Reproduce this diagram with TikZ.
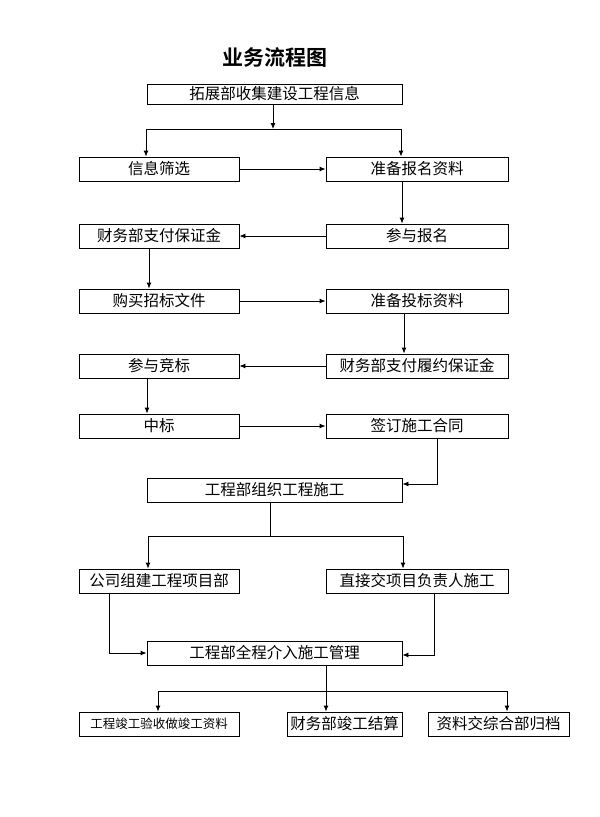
\documentclass[tikz,border=0pt]{standalone}
\usepackage{fontspec}
\setmainfont{Liberation Serif}
\newfontfamily\cjk{Noto Sans CJK SC}
\newfontfamily\cjkb{Noto Sans CJK SC}[BoldFont={* Bold}]
\usetikzlibrary{arrows.meta}
\tikzset{
  box/.style={draw, line width=0.9pt, inner sep=0pt, minimum height=24pt, font=\cjk\fontsize{15.5}{16}\selectfont},
  wbox/.style={box, minimum width=160pt},
  rbox/.style={box, minimum width=182pt},
  cbox/.style={box, minimum width=255pt},
  arr/.style={line width=0.9pt, -{Latex[length=6pt,width=5pt]}},
  ln/.style={line width=0.9pt}
}
\begin{document}
\begin{tikzpicture}[x=1pt,y=-1pt]
\fill[white] (0,0) rectangle (600,817);
\useasboundingbox (0,0) rectangle (600,817);
\node[font=\cjkb\bfseries\fontsize{21}{22}\selectfont] (title) at (275,58) {业务流程图};
\node[cbox, minimum height=20pt] (b1) at (274.5,94) {拓展部收集建设工程信息};
\node[wbox] (b2) at (159,169) {信息筛选};
\node[rbox] (b3) at (417,169) {准备报名资料};
\node[wbox] (b4) at (159,236) {财务部支付保证金};
\node[rbox] (b5) at (417,236) {参与报名};
\node[wbox] (b6) at (159,301) {购买招标文件};
\node[rbox] (b7) at (417,301) {准备投标资料};
\node[wbox] (b8) at (159,366) {参与竞标};
\node[rbox] (b9) at (417,366) {财务部支付履约保证金};
\node[wbox] (b10) at (159,426) {中标};
\node[rbox] (b11) at (417,426) {签订施工合同};
\node[cbox] (b12) at (274.5,490) {工程部组织工程施工};
\node[wbox] (b13) at (159,581) {公司组建工程项目部};
\node[rbox] (b14) at (417,581) {直接交项目负责人施工};
\node[cbox] (b15) at (274.5,653) {工程部全程介入施工管理};
\node[wbox, font=\cjk\fontsize{12.5}{13}\selectfont] (b16) at (159,724) {工程竣工验收做竣工资料};
\node[box, minimum width=115pt] (b17) at (344.5,724) {财务部竣工结算};
\node[box, minimum width=141pt] (b18) at (498.5,724) {资料交综合部归档};
% branch 1
\coordinate (j1) at (273,129);
\coordinate (j1l) at (146,129);
\coordinate (j1r) at (401,129);
\draw[arr] (b1.south -| j1) -- (j1);
\draw[ln] (j1l) -- (j1r);
\draw[arr] (j1l) -- (j1l |- b2.north);
\draw[arr] (j1r) -- (j1r |- b3.north);
\draw[arr] (b2) -- (b3);
\draw[arr] ([xshift=-15pt]b3.south) -- ([xshift=-15pt]b5.north);
\draw[arr] (b5) -- (b4);
\draw[arr] ([xshift=-10pt]b4.south) -- ([xshift=-10pt]b6.north);
\draw[arr] (b6) -- (b7);
\draw[arr] ([xshift=-13pt]b7.south) -- ([xshift=-13pt]b9.north);
\draw[arr] (b9) -- (b8);
\draw[arr] ([xshift=-12pt]b8.south) -- ([xshift=-12pt]b10.north);
\draw[arr] (b10) -- (b11);
\draw[arr] ([xshift=20pt]b11.south) |- ([yshift=6pt]b12.east);
% branch 2
\coordinate (j2) at (270,536);
\coordinate (j2l) at (148,536);
\coordinate (j2r) at (403,536);
\draw[ln] (b12.south -| j2) -- (j2);
\draw[ln] (j2l) -- (j2r);
\draw[arr] (j2l) -- (j2l |- b13.north);
\draw[arr] (j2r) -- (j2r |- b14.north);
\draw[arr] ([xshift=-50pt]b13.south) |- (b15.west);
\draw[arr] ([xshift=17pt]b14.south) |- ([yshift=-2pt]b15.east);
% branch 3
\coordinate (j3) at (326,691);
\coordinate (j3l) at (158,691);
\coordinate (j3r) at (507,691);
\draw[ln] (b15.south -| j3) -- (j3);
\draw[ln] (j3l) -- (j3r);
\draw[arr] (j3l) -- (j3l |- b16.north);
\draw[arr] (j3) -- (j3 |- b17.north);
\draw[arr] (j3r) -- (j3r |- b18.north);
\end{tikzpicture}
\end{document}
